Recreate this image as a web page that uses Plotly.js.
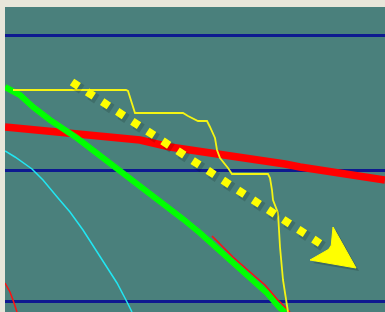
<!DOCTYPE html>
<html>
<head>
<meta charset="utf-8">
<script src="https://cdn.plot.ly/plotly-3.0.1.min.js"></script>
<style>html,body{margin:0;padding:0;background:#e8e6da;}#chart{width:385px;height:312px;}</style>
</head>
<body>
<div id="chart"></div>
<script>
// Thick red series
const redX = [0,35,65,100,135,165,195,225,255,280,295,335,380];
const redY = [185,182,179,175,172,165,161,157,152,148,145,139,132];
// Thick green series
const greenX = [0,15,28,45,72,108,135,165,178,195,212,228,245,262,275,281];
const greenY = [225,217,205,192,174,147,126,103,93,79,64,50,35,19,4,0];
// Thin red series (two visible pieces)
const thinRedX = [0,5,8,12,null,207,228,245,260,272,285];
const thinRedY = [29,20,12,0,null,76,55,40,27,13,0];
// Thin cyan series
const cyanX = [0,10,27,38,53,65,78,92,102,112,122,127];
const cyanY = [161,155,143,132,114,100,82,60,45,29,10,0];
// Yellow step series
const stepX = [8,121,123,130,178,183,193,202,205,210,212,215,223,227,263,265,267,268,273,275,278,282,283];
const stepY = [222,222,221,199,199,196,191,191,185,174,162,154,144,138,138,134,122,112,99,65,32,7,0];
// Trend arrow (dotted)
const arrowX = [67,325];
const arrowY = [230,62];
// Horizontal reference lines
const gridVals = [10.5,142,277];

const traces = [
  {x: cyanX, y: cyanY, mode:'lines', line:{color:'#22e6f2', width:1.5}, hoverinfo:'skip'},
  {x: redX, y: redY, mode:'lines', line:{color:'#ff0000', width:7.5}, hoverinfo:'skip'},
  {x: greenX, y: greenY, mode:'lines', line:{color:'#00ff00', width:6}, hoverinfo:'skip'},
  {x: thinRedX, y: thinRedY, mode:'lines', line:{color:'#ff1010', width:1.5}, connectgaps:false, hoverinfo:'skip'},
  {x: stepX, y: stepY, mode:'lines', line:{color:'#f4f414', width:1.8}, hoverinfo:'skip'},
  {x: arrowX.map(v=>v+3), y: arrowY.map(v=>v-3), mode:'lines', line:{color:'rgba(0,0,0,0.14)', width:10, dash:'8px,10px'}, hoverinfo:'skip'},
  {x: arrowX, y: arrowY, mode:'lines', line:{color:'#ffff00', width:8, dash:'8px,10px'}, hoverinfo:'skip'}
];

const layout = {
  width: 385, height: 312,
  margin: {l:5, r:0, t:7, b:0, pad:0},
  paper_bgcolor: '#e8e6da',
  plot_bgcolor: '#4a807c',
  showlegend: false,
  xaxis: {range:[0,380], showgrid:false, zeroline:false, showticklabels:false, ticks:'', showline:false, fixedrange:true},
  yaxis: {range:[0,305], tickvals: gridVals, showgrid:true, gridcolor:'#0e1a90', gridwidth:3, zeroline:false, showticklabels:false, ticks:'', showline:false, fixedrange:true},
  shapes: [
    {type:'path', xref:'x', yref:'y', path:'M 331,82 L 329,61 L 308,49 L 354,41 Z', fillcolor:'rgba(0,0,0,0.18)', line:{width:0}, layer:'above'},
    {type:'path', xref:'x', yref:'y', path:'M 328,85 L 326,64 L 305,52 L 351,44 Z', fillcolor:'#ffff00', line:{color:'#ffff00', width:1}, layer:'above'}
  ]
};

Plotly.newPlot('chart', traces, layout, {staticPlot:true, displayModeBar:false});
</script>
</body>
</html>
